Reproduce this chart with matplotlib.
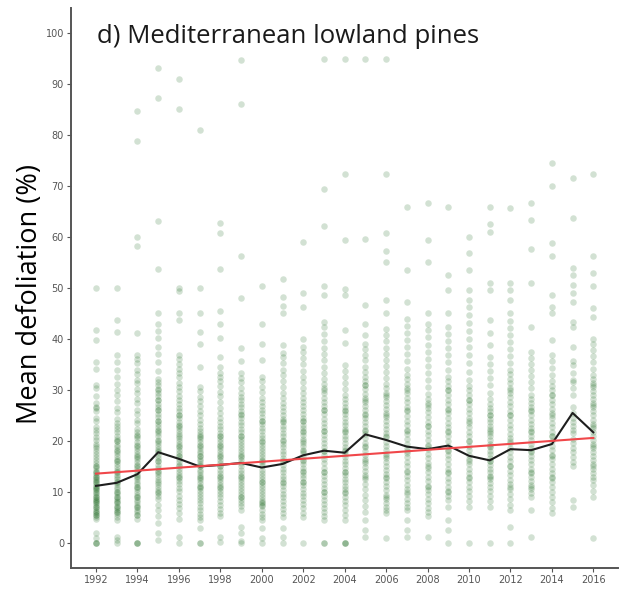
import numpy as np
import matplotlib
matplotlib.use('Agg')
import matplotlib.pyplot as plt

# per-year plot values (%)
pts = {
    1992: "50 41.8 39.8 35.5 34.2 31 30.4 28.8 27.4 26.7 26.5 25.8 24.6 23.9 22.8 22.2 21.6 20.8 20.1 19.5 19 18.6 18.1 17.4 16.8 16.2 15.6 15.1 14.7 14.2 13.8 13.3 12.9 12.4 12 11.6 11.2 10.8 10.3 9.9 9.5 9.1 8.7 8.3 7.9 7.5 7.1 6.7 6.3 5.9 5.5 5.1 4.7 15 14 13 12 11 10 9 8 7 6 5.5 12.5 10.5 8.5 1.9 1 0 0 0",
    1993: "50 43.7 41.4 36.9 35.5 34 32.6 31.2 30 29.1 27.8 26.5 25.6 24.4 23.5 23 22.3 21.7 21 20.4 20 19.3 18.8 18.2 17.6 17 16.4 16 15.5 14.9 14.4 14 13.4 12.9 12.5 12 11.5 11 10.5 10 9.6 9.1 8.7 8.2 7.8 7.3 6.9 6.4 6 5.6 5.1 4.5 20 18 16 14 12 10 9 8 7 6 1.2 0.6 0",
    1994: "84.7 78.8 60 58.3 41.1 36.9 36 35.2 34 33.1 32 31.4 30.2 29.5 28.3 27.5 26.1 25.3 24.2 23.5 22.3 21.8 21.1 20.5 19.9 19.3 18.7 18.1 17.5 16.9 16.4 15.8 15.3 14.8 14.2 13.6 13.1 12.6 12 11.5 11 10.5 10 9.5 9 8.5 8 7.5 7 6.5 6 5.5 4.8 21 19 17 15 13 11 9 7 5.5 0 0 0",
    1995: "93.1 87.3 63.2 53.7 45 43 41.5 40.2 38.5 37 35.4 33.8 32.2 31.5 30.9 30.1 29.4 28.8 28 27.3 26.6 26 25.3 24.7 24 23.4 22.7 22.1 21.5 20.9 20.2 19.6 19 18.4 17.8 17.2 16.6 16 15.3 14.7 14.1 13.5 12.9 12.3 11.6 11 10.4 9.8 9.2 8.6 7.5 6.4 5.2 3.9 30 28 26 24 22 20 18 16 14 12 10 2 0.5",
    1996: "91 85.1 50 49.4 45 43.7 36.9 36 35 34.2 33.3 32.5 31.4 30.6 29.8 28.9 28 27.2 26.5 25.8 25.1 24.5 23.8 23.2 22.5 21.9 21.3 20.6 20 19.4 18.8 18.2 17.6 17 16.4 15.8 15.2 14.6 14 13.4 12.8 12.2 11.5 10.8 10.1 9.3 8.5 7.7 6.8 5.9 4.8 25 23 21 19 17 15 13 1.2 0",
    1997: "81 50 45 41.4 39 34.6 30.6 29.8 28.7 27.9 26.8 25.9 25 24.2 23.4 22.6 21.9 21.4 20.8 20.3 19.8 19.2 18.7 18.1 17.6 17.1 16.5 16 15.5 15 14.4 13.9 13.4 12.8 12.3 11.8 11.2 10.7 10.2 9.7 9.1 8.5 7.8 7.1 6.4 5.7 5 4.5 21 19 17 15 13 11 2.9 0 0",
    1998: "62.7 60.7 53.7 45.4 43 40.1 36.5 34.6 33.4 32.6 31.8 30.7 29.7 28.8 27.6 26.5 25.5 24.6 23.7 22.9 22.3 21.6 21 20.4 19.8 19.2 18.6 18 17.4 16.8 16.2 15.6 15 14.4 13.8 13.2 12.6 12 11.4 10.8 10.2 9.7 9 8.3 7.5 6.7 5.9 5.2 21 19 17 15 13 11 1.2 0.2",
    1999: "94.7 86.1 56.3 48 38.2 35.6 33.3 32.4 31.5 30.3 29.4 28.7 28 27.3 26.6 25.9 25.2 24.5 23.8 23.1 22.4 21.7 21 20.4 19.8 19.2 18.6 18 17.4 16.8 16.2 15.6 15 14.4 13.8 13.2 12.6 12 11.4 10.8 10.2 9.6 9 8.4 7.8 7.2 6.5 25 21 17 13 9 3.2 2 0.3 0",
    2000: "50.3 43 39 35.9 32.6 31.8 30.6 29.7 28.5 27.6 26.9 26.1 25.4 24.7 24 23.3 22.6 21.9 21.2 20.5 19.8 19.2 18.6 18 17.4 16.8 16.2 15.6 15 14.4 13.8 13.2 12.6 12 11.4 10.8 10.2 9.6 9 8.4 7.8 7.3 6.5 5.7 5 4.5 24 20 16 12 8 7.5 2.9 1 0",
    2001: "51.8 48.3 46.5 45 38.8 37.2 36.4 35.2 34 33 31.8 30.6 29.4 28.4 27.5 26.6 25.9 25.1 24.4 23.7 23 22.3 21.6 20.9 20.2 19.5 18.8 18.1 17.4 16.7 16 15.3 14.6 13.9 13.2 12.5 11.8 11.1 10.4 9.7 9 8.3 7.5 6.6 5.8 5 24 20 16 12 2.9 1.2 0",
    2002: "59 49 46.3 40 38.5 37.4 36.2 35 33.8 32.6 31.5 30.4 29.4 28.5 27.6 26.8 26 25.3 24.6 23.9 23.2 22.5 21.8 21.1 20.4 19.7 19 18.3 17.6 16.9 16.2 15.5 14.8 14.1 13.4 12.7 12 11.3 10.6 9.9 9.2 8.5 7.7 6.8 5.8 5 24 22 20 18 16 14 12 0",
    2003: "94.9 69.4 62.2 50.3 48.6 43.4 42.3 41 39.6 38.3 37 35.8 34.6 33.4 32.2 31.2 30.3 29.4 28.5 27.6 26.8 26 25.2 24.4 23.6 22.8 22 21.2 20.4 19.6 18.8 18 17.2 16.4 15.6 14.8 14 13.2 12.4 11.6 10.8 10 9.2 8.4 7.6 6.8 6 5.2 4.5 30 26 22 18 14 10 0 0",
    2004: "94.9 72.4 59.4 49.8 48.6 41.8 39.2 34.9 33.8 32.5 31.4 30.2 29.1 28.2 27.4 26.6 25.9 25.2 24.5 23.8 23.1 22.4 21.7 21 20.3 19.6 18.9 18.2 17.5 16.8 16.1 15.4 14.7 14 13.3 12.6 11.9 11.2 10.5 9.8 9.1 8.3 7.4 6.5 5.5 4.5 26 22 18 14 10 0 0 0",
    2005: "94.9 59.6 46.7 43 40.8 39 38 36.9 35.8 34.6 33.5 32.5 31.7 30.9 30.1 29.3 28.5 27.7 26.9 26.1 25.3 24.5 23.7 22.9 22.1 21.3 20.5 19.7 18.9 18.1 17.3 16.5 15.7 14.9 14.1 13.3 12.5 11.6 10.6 9.5 8.4 7.2 6 4.5 31 28 25 22 19 16 13 2.5 1.2",
    2006: "94.9 72.4 60.8 57.3 55.1 47.6 45 42 40.8 39.6 38.3 37.1 35.9 34.7 33.5 32.3 31.1 30.3 29.5 28.7 27.9 27.1 26.3 25.5 24.7 23.9 23.1 22.3 21.5 20.7 19.9 19.1 18.3 17.5 16.7 15.9 15.1 14.3 13.5 12.7 11.9 11.1 10.3 9.5 8.7 7.9 7.1 6.4 5.8 29 25 21 17 13 9 0.9",
    2007: "65.9 53.5 47.3 44 42.6 41.2 39.8 38.4 37 35.6 34.2 33 32.1 31.2 30.3 29.4 28.5 27.6 26.7 25.8 24.9 24 23.1 22.2 21.3 20.4 19.5 18.6 17.7 16.8 15.9 15 14.1 13.2 12.3 11.4 10.5 9.6 8.7 7.8 7 6.5 30 26 22 18 14 10 4.5 2.5 1.2",
    2008: "66.7 59.4 55.1 45 43 41.7 40.3 38.9 37.5 36.1 34.7 33.3 31.9 30.5 29.2 28.3 27.4 26.5 25.6 24.7 23.8 22.9 22 21.1 20.2 19.3 18.4 17.5 16.6 15.7 14.8 13.9 13 12.1 11.2 10.3 9.6 8.7 7.8 6.9 6 5.2 27 23 19 15 11 1.2",
    2009: "65.9 52.5 49.6 45 42.4 41 39.6 38.2 36.8 35.4 34 32.6 31.7 30.8 29.9 29 28.1 27.2 26.3 25.4 24.5 23.6 22.7 21.8 20.9 20 19.1 18.2 17.3 16.4 15.5 14.6 13.7 12.8 11.9 11 10.1 9.2 8.4 30 26 22 18 14 10 7.1 4.5 2.5 0",
    2010: "60 56.8 53.5 49.6 47.6 46.3 44.8 43.2 41.6 40 38.4 36.8 35.2 33.6 32 30.8 29.9 29 28.1 27.2 26.3 25.4 24.5 23.6 22.7 21.8 20.9 20 19.1 18.2 17.3 16.4 15.5 14.6 13.7 12.8 11.9 11 10.1 9.2 8.3 7.1 28 24 20 16 13 0",
    2011: "65.9 62.5 61 51 49.6 43.7 41.1 38.8 36.5 35.1 33.7 32.3 30.9 29.5 28.2 27.2 26.5 25.8 25.1 24.4 23.7 23 22.3 21.6 20.9 20.2 19.5 18.8 18.1 17.4 16.7 16 15.3 14.6 13.9 13.2 12.5 11.8 11 10.1 9.2 8.2 7.1 25 22 19 16 13 0",
    2012: "65.6 51 49.6 47.6 45 43.6 42.2 40.8 39.4 38 36.6 35.2 34 33.1 32.2 31.3 30.4 29.5 28.6 27.7 26.8 25.9 25 24.1 23.2 22.3 21.4 20.5 19.6 18.7 17.8 16.9 16 15.1 14.2 13.3 12.4 11.5 10.6 9.7 8.6 7.5 6.5 30 25 20 15 11 3.2 0",
    2013: "66.6 63.3 57.6 50.9 42.4 37.5 36.3 35.1 33.9 32.7 31.5 30.3 29.1 28.2 27.4 26.6 25.8 25 24.2 23.4 22.6 21.8 21 20.2 19.4 18.6 17.8 17 16.2 15.4 14.6 13.8 13 12.2 11.4 10.6 9.8 9.1 26 22 18 14 11 6.5 1.2",
    2014: "74.5 70 58.8 56.3 48.6 46.3 45 39.8 36.9 35.6 34.3 33 31.7 30.8 29.9 29 28.1 27.2 26.3 25.4 24.5 23.6 22.7 21.8 20.9 20 19.1 18.2 17.3 16.4 15.5 14.6 13.7 12.8 11.9 11 10 9 8 6.9 5.8 29 25 21 17 13",
    2015: "71.5 63.7 53.9 52.6 50.6 49 47.3 43.4 42.4 38.5 35.6 34.9 33.3 32 31.6 30.3 29 26.7 25.4 24.6 23.8 23 22.2 21.5 20.4 19.6 18.7 17.8 16.9 15.8 15 8.4 7.1",
    2016: "72.4 56.3 53 50.3 46 44.4 40 39 37.8 36.6 35.4 34.2 33 32.2 31.4 30.6 29.8 29 28.2 27.4 26.6 25.8 25 24.2 23.4 22.6 21.8 21 20.2 19.4 18.6 17.8 17 16.2 15.4 14.6 13.8 13 12.3 11.3 10.2 9.1 31 27 23 19 15 0.9",
}

years = np.arange(1992, 2017)
means = [11.2, 11.8, 13.5, 17.8, 16.5, 15.0, 15.3, 15.7, 14.8, 15.5, 17.2, 18.1,
         17.7, 21.3, 20.2, 18.9, 18.4, 19.1, 17.1, 16.2, 18.4, 18.2, 19.4, 25.5, 21.7]
trend_years = [1992, 2016]
trend_vals = [13.6, 20.6]

fig = plt.figure(figsize=(6.21, 5.90), dpi=100)
ax = fig.add_axes([0.1143, 0.0373, 0.8808, 0.9492])

for yr in years:
    v = np.array([float(s) for s in pts[yr].split()])
    ax.scatter(np.full(len(v), yr), v, s=22, color='#0a5c0e', alpha=0.18,
               linewidths=0, zorder=2)

ax.plot(years, means, color='#1e1e1e', lw=1.5, zorder=3)
ax.plot(trend_years, trend_vals, color='#f0474a', lw=1.5, zorder=4)

ax.set_xlim(1990.79, 2017.19)
ax.set_ylim(-4.9, 104.9)
ax.set_xticks(np.arange(1992, 2017, 2))
ax.set_yticks(np.arange(0, 101, 10))
for sp in ['top', 'right']:
    ax.spines[sp].set_visible(False)
for sp in ['left', 'bottom']:
    ax.spines[sp].set_color('#555555')
    ax.spines[sp].set_linewidth(1.4)
ax.tick_params(colors='#555555', labelcolor='#555555', labelsize=7, length=3,
               width=0.8, pad=2)

ax.set_ylabel('Mean defoliation (%)', fontsize=19.5, family='Open Sans')
ax.yaxis.set_label_coords(-0.05, 0.49)
ax.text(1992.05, 99.4, 'd) Mediterranean lowland pines', fontsize=18.5,
        family='Open Sans', color='#1a1a1a', va='center', ha='left')

fig.savefig('out.png', dpi=100)
